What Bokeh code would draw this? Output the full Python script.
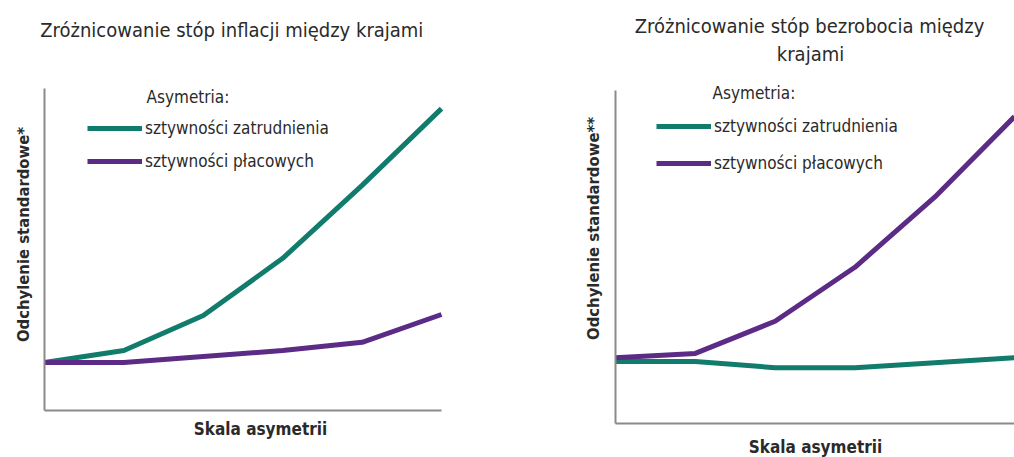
from bokeh.plotting import figure
from bokeh.models import Range1d, Label, Legend, LegendItem, FixedTicker, LinearAxis
from bokeh.layouts import row
from bokeh.embed import file_html
from bokeh.resources import INLINE

# Points along the asymmetry scale
scale_steps = [0, 1, 2, 3, 4, 5]

# Inflation dispersion across countries (standard deviation, arbitrary units)
infl_employment = [1.0, 1.25, 1.98, 3.17, 4.69, 6.29]
infl_wages = [1.0, 1.0, 1.125, 1.25, 1.42, 2.0]

# Unemployment dispersion across countries
unemp_employment = [1.0, 1.0, 0.90, 0.90, 0.98, 1.06]
unemp_wages = [1.06, 1.13, 1.65, 2.52, 3.65, 4.95]

legend_title = "Asymetria:"
label_employment = "sztywności zatrudnienia"
label_wages = "sztywności płacowych"
title_left = "Zróżnicowanie stóp inflacji  między  krajami"
title_right = ["Zróżnicowanie stóp bezrobocia między", "krajami"]
xlabel = "Skala asymetrii"
ylabel_left = "Odchylenie standardowe*"
ylabel_right = "Odchylenie standardowe**"

TEAL = "#117b6c"
PURPLE = "#5b2b86"
AXIS = "#8a8a8a"
FONT = "DejaVu Sans Condensed"
TXT = "#2a2a2a"
W, H = 507, 457


def panel(x0, x1, y0, y1, ytop, s_emp, s_wag):
    """Panel whose plot area spans the whole canvas; the axes are drawn
    at the data origin with limited bounds. (x0, x1) are the canvas
    positions of the first/last step, y0 the canvas row of zero, y1 the
    row of one unit."""
    ux = (x1 - x0) / 5.0
    uy = (y0 - y1)
    p = figure(width=W, height=H, output_backend="svg", toolbar_location=None,
               x_range=Range1d(-x0 / ux, (W - x0) / ux),
               y_range=Range1d(-(H - y0) / uy, y0 / uy),
               min_border=0, x_axis_type=None, y_axis_type=None)
    p.outline_line_color = None
    p.grid.visible = False
    ymax = (y0 - ytop) / uy
    for ax, side in ((LinearAxis(fixed_location=0, bounds=(0, 5)), "below"),
                     (LinearAxis(fixed_location=0, bounds=(0, ymax)), "left")):
        ax.ticker = FixedTicker(ticks=[])
        ax.major_tick_line_color = None
        ax.minor_tick_line_color = None
        ax.major_label_text_font_size = "0px"
        ax.axis_line_color = AXIS
        ax.axis_line_width = 2
        p.add_layout(ax, side)
    r1 = p.line(scale_steps, s_emp, line_color=TEAL, line_width=5)
    r2 = p.line(scale_steps, s_wag, line_color=PURPLE, line_width=5)
    return p, r1, r2


def put(p, X, Y, text, size, bold=False, angle=0.0, align="left"):
    p.add_layout(Label(x=X, y=H - Y, x_units="screen", y_units="screen",
                       text=text, text_font=FONT, text_font_size=size,
                       text_font_style="bold" if bold else "normal",
                       text_color=TXT, text_align=align,
                       text_baseline="middle", angle=angle))


def legend(p, r1, r2, gx, top, gap):
    lg = Legend(items=[LegendItem(label=label_employment, renderers=[r1]),
                       LegendItem(label=label_wages, renderers=[r2])],
                glyph_width=55, glyph_height=20, label_height=20,
                label_standoff=3, spacing=gap, padding=0, margin=0,
                border_line_color=None, background_fill_alpha=0,
                label_text_font=FONT, label_text_font_size="17px",
                label_text_color=TXT,
                location=(gx, H - (top + 40 + gap)))
    p.add_layout(lg, "center")


# Left: inflation
p1, a1, b1 = panel(44, 441, 410, 362, 88, infl_employment, infl_wages)
put(p1, 237, 29, title_left, "20px", align="center")
put(p1, 146, 96, legend_title, "17px")
legend(p1, a1, b1, 87, 118, 13)
put(p1, 23, 234, ylabel_left, "16.5px", bold=True, angle=1.5708, align="center")
put(p1, 260, 428, xlabel, "17px", bold=True, align="center")

# Right: unemployment
p2, a2, b2 = panel(615 - W, 1014 - W, 423, 361, 90, unemp_employment, unemp_wages)
put(p2, 809 - W, 25, title_right[0], "20px", align="center")
put(p2, 810 - W, 53, title_right[1], "20px", align="center")
put(p2, 712 - W, 92, legend_title, "17px")
legend(p2, a2, b2, 656 - W, 116, 17)
put(p2, 593 - W, 228, ylabel_right, "16.5px", bold=True, angle=1.5708, align="center")
put(p2, 815 - W, 446, xlabel, "17px", bold=True, align="center")

layout = row(p1, p2, spacing=0)
open("out.html", "w").write(file_html(layout, INLINE))
